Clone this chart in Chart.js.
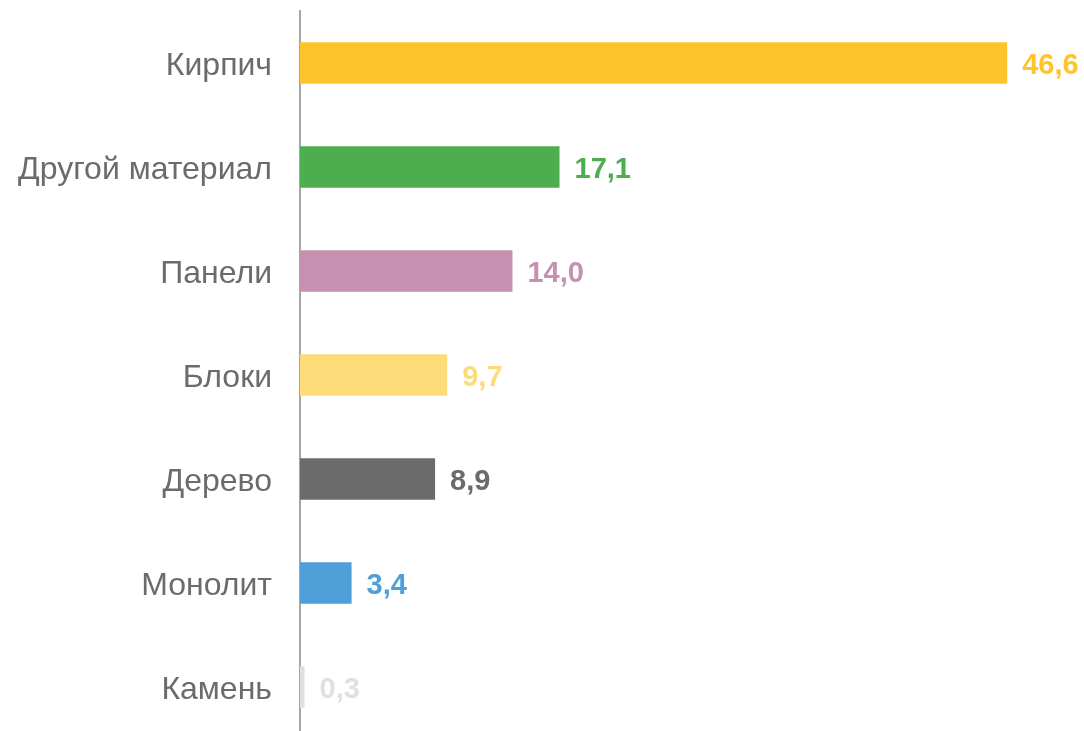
<!DOCTYPE html>
<html>
<head>
<meta charset="utf-8">
<script src="https://cdn.jsdelivr.net/npm/chart.js@4.4.1/dist/chart.umd.min.js"></script>
<style>
  html, body { margin: 0; padding: 0; background: #fff; overflow: hidden; }
  #wrap { position: relative; width: 1084px; height: 739px; }
</style>
</head>
<body>
<div id="wrap"><canvas id="chart"></canvas></div>
<script>
const categories = ['Кирпич', 'Другой материал', 'Панели', 'Блоки', 'Дерево', 'Монолит', 'Камень'];
const values = [46.6, 17.1, 14.0, 9.7, 8.9, 3.4, 0.3];
const colors = ['#fec42c', '#4cae4f', '#c690b0', '#fcdb78', '#6b6b6b', '#4f9fd9', '#e0e0e0'];

// value labels at the end of each bar, same colour as the bar
const valueLabels = {
  id: 'valueLabels',
  afterDatasetsDraw(chart) {
    const ctx = chart.ctx;
    const meta = chart.getDatasetMeta(0);
    ctx.save();
    ctx.font = 'bold 29px "Liberation Sans", Arial, sans-serif';
    ctx.textBaseline = 'middle';
    ctx.textAlign = 'left';
    meta.data.forEach((bar, i) => {
      ctx.fillStyle = colors[i];
      ctx.fillText(values[i].toFixed(1).replace('.', ','), bar.x + 15, bar.y + 3);
    });
    ctx.restore();
  }
};

new Chart(document.getElementById('chart'), {
  type: 'bar',
  data: {
    labels: categories,
    datasets: [{
      data: values,
      backgroundColor: colors,
      borderWidth: 0,
      categoryPercentage: 1,
      barPercentage: 0.4
    }]
  },
  options: {
    indexAxis: 'y',
    responsive: true,
    maintainAspectRatio: false,
    animation: false,
    layout: { padding: { top: 11, right: 10, bottom: 0 } },
    scales: {
      x: {
        display: false,
        min: 0,
        max: 51
      },
      y: {
        afterFit(scale) {
          scale.width = 300;
          scale.paddingTop = 0;
          scale.paddingBottom = 0;
        },
        grid: { display: false, drawTicks: false },
        border: { display: true, color: '#a6a6a6', width: 2 },
        ticks: {
          padding: 28,
          labelOffset: 3,
          color: '#6b6b6b',
          font: { family: '"Liberation Sans", Arial, sans-serif', size: 32 }
        }
      }
    },
    plugins: {
      legend: { display: false },
      tooltip: { enabled: false }
    }
  },
  plugins: [valueLabels]
});
</script>
</body>
</html>
